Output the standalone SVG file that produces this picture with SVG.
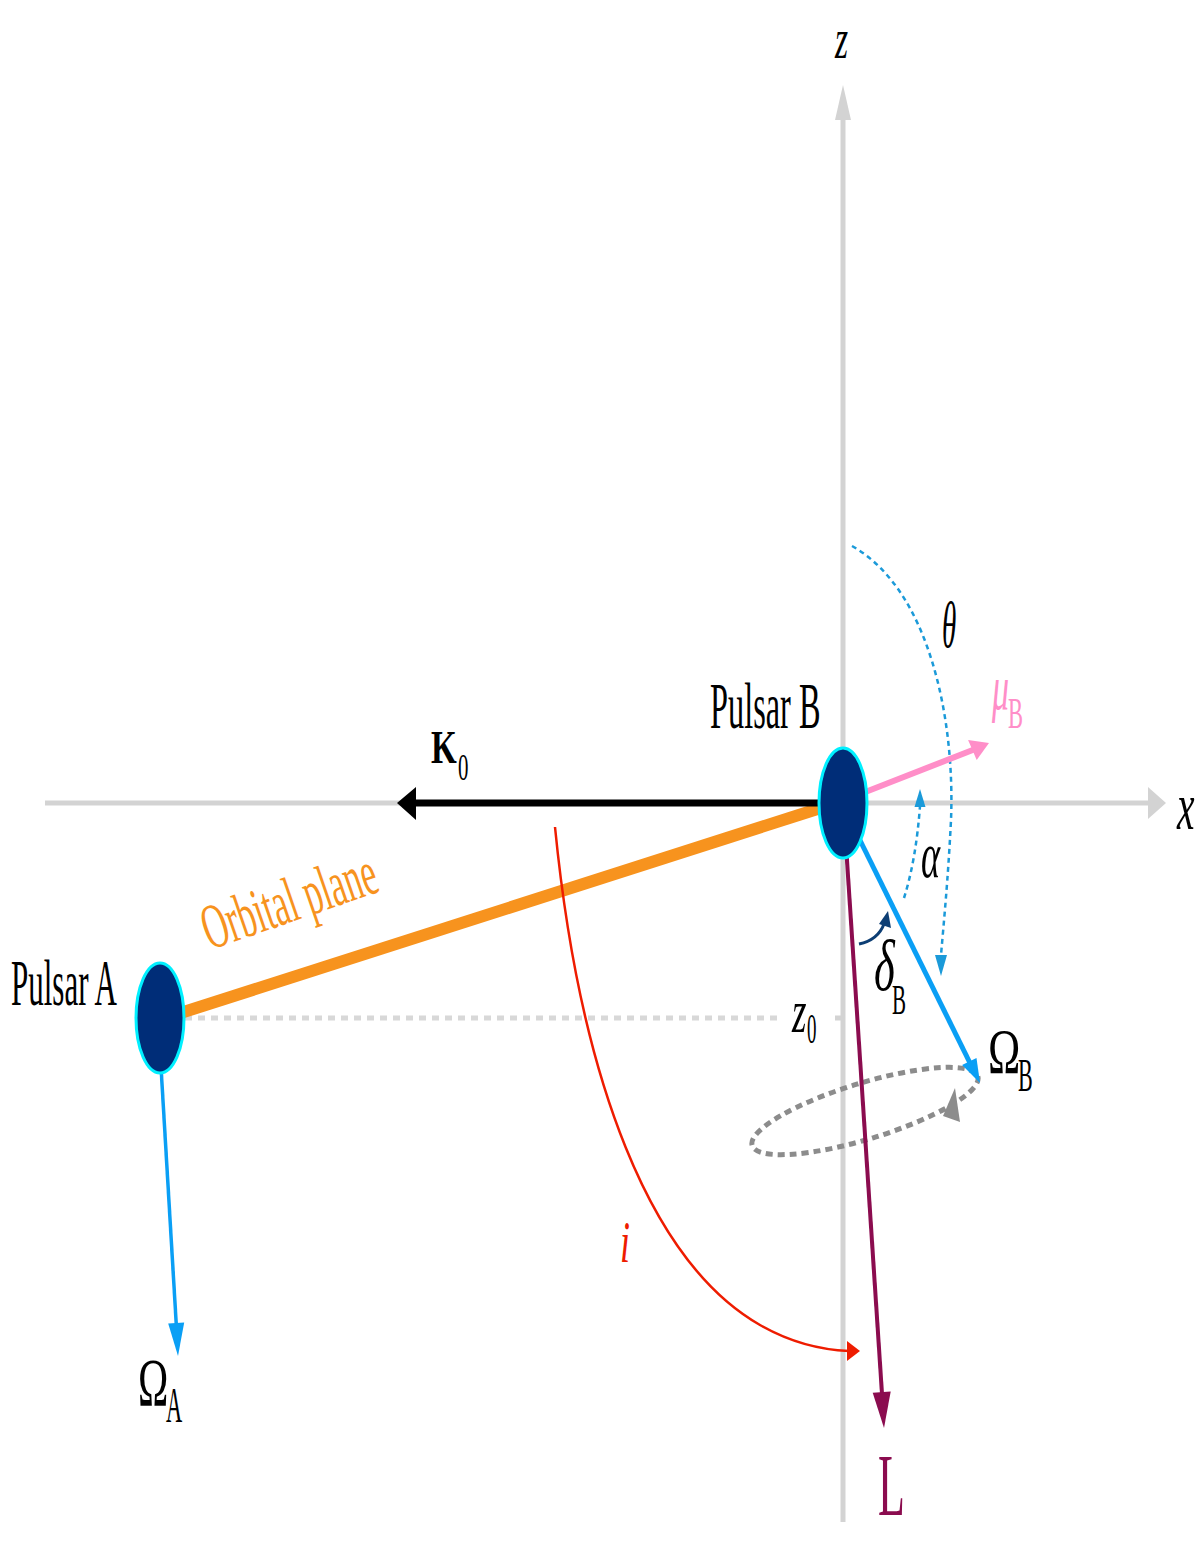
<svg xmlns="http://www.w3.org/2000/svg" width="1200" height="1543" viewBox="0 0 1200 1543">
<style>
text{font-family:"Liberation Serif","Times New Roman",serif;}
.it{font-style:italic;}
.axis{stroke:#d3d3d3;stroke-width:5;fill:none;}
.dash{fill:none;stroke:#1b9ad9;stroke-width:2.5;stroke-dasharray:5 4;}
</style>
<rect width="1200" height="1543" fill="#ffffff"/>
<g id="axes">
<line class="axis" x1="45" y1="803" x2="1150" y2="803"/>
<polygon points="1166,803 1148,787 1148,819" fill="#d3d3d3"/>
<line class="axis" x1="843" y1="1522" x2="843" y2="115"/>
<polygon points="843,85 835,120 851,120" fill="#d3d3d3"/>
<line x1="835" y1="1018" x2="843" y2="1018" stroke="#d3d3d3" stroke-width="5"/>
<g transform="translate(835,58) scale(0.6,1)"><text class="it" font-size="56" x="0" y="0">z</text></g>
<g transform="translate(1177,829) scale(0.58,1)"><text class="it" font-size="68" x="0" y="0">x</text></g>
</g>
<g id="connectors">
<line x1="185" y1="1018" x2="780" y2="1018" stroke="#d8d8d8" stroke-width="5" stroke-dasharray="7 6"/>
<line x1="165" y1="1018" x2="830" y2="805" stroke="#f7931e" stroke-width="12"/>
<line x1="830" y1="803" x2="412" y2="803" stroke="#000" stroke-width="7"/>
<polygon points="397,803 416,787 416,820" fill="#000"/>
<path d="M 555 827 C 580 1080 650 1262 760 1325 C 795 1345 825 1350 849 1351" fill="none" stroke="#ee1c00" stroke-width="2.5"/>
<polygon points="860,1351 847,1341 847,1361" fill="#ee1c00"/>
<path class="dash" d="M 852 546 C 930 590 955 720 951 820 C 948 880 944 920 941 955"/>
<polygon points="941,976 935,955 947,955" fill="#1b9ad9"/>
<path class="dash" d="M 904 898 Q 916 860 920 806"/>
<polygon points="920,789 914.5,807 925.5,807" fill="#1b9ad9"/>
<ellipse cx="865" cy="1111" rx="118" ry="28" transform="rotate(-17 865 1111)" fill="none" stroke="#8c8c8c" stroke-width="5" stroke-dasharray="7 5"/>
<polygon points="955,1088 943,1116 960,1122" fill="#8c8c8c"/>
<line x1="845" y1="830" x2="882" y2="1394" stroke="#8b0c4f" stroke-width="4"/>
<polygon points="884,1428 872.7,1392.7 890.7,1391.5" fill="#8b0c4f"/>
<line x1="850" y1="820" x2="970" y2="1063" stroke="#0a9ff5" stroke-width="5"/>
<polygon points="980,1083 962.1,1065.1 976.5,1057.9" fill="#0a9ff5"/>
<line x1="160" y1="1050" x2="176.3" y2="1325" stroke="#0a9ff5" stroke-width="3.5"/>
<polygon points="178,1356 168.2,1323.6 184.2,1322.6" fill="#0a9ff5"/>
<line x1="850" y1="798" x2="974" y2="749.5" stroke="#ff8ec8" stroke-width="6"/>
<polygon points="989,743 976.7,760.1 968.1,739.9" fill="#ff8ec8"/>
<path d="M 859 944 Q 878 940 884 924" fill="none" stroke="#0d3e74" stroke-width="3"/>
<polygon points="888,911 879,924 891,928" fill="#0d3e74"/>
</g>
<g id="pulsarB">
<ellipse cx="843" cy="803" rx="24" ry="55" fill="#002d78" stroke="#00f0ff" stroke-width="3"/>
<g transform="translate(710,728) scale(0.49,1)"><text font-size="66" x="0" y="0">Pulsar B</text></g>
</g>
<g id="pulsarA">
<ellipse cx="160" cy="1018" rx="24" ry="55" fill="#002d78" stroke="#00f0ff" stroke-width="3"/>
<g transform="translate(11,1005) scale(0.47,1)"><text font-size="66" x="0" y="0">Pulsar A</text></g>
</g>
<g id="labels">
<g transform="translate(210,950) rotate(-19) scale(0.54,1)"><text font-size="64" fill="#f7931e" x="0" y="0">Orbital plane</text></g>
<g transform="translate(431,763) scale(0.72,1)"><text font-size="46" font-weight="bold" x="0" y="0">K</text></g>
<g transform="translate(458,780) scale(0.55,1)"><text font-size="38" x="0" y="0">0</text></g>
<g transform="translate(942,647) scale(0.44,1)"><text class="it" font-size="66" x="0" y="0">θ</text></g>
<g transform="translate(992,709) scale(0.53,1)"><text class="it" font-size="64" fill="#ff8ec8" x="0" y="0">μ</text></g>
<g transform="translate(1008,728) scale(0.5,1)"><text font-size="45" fill="#ff8ec8" x="0" y="0">B</text></g>
<g transform="translate(921,877) scale(0.55,1)"><text class="it" font-size="66" x="0" y="0">α</text></g>
<g transform="translate(874,990) scale(0.62,1)"><text class="it" font-size="72" x="0" y="0">δ</text></g>
<g transform="translate(892,1014) scale(0.5,1)"><text font-size="42" x="0" y="0">B</text></g>
<g transform="translate(988,1073) scale(0.68,1)"><text font-size="64" x="0" y="0">Ω</text></g>
<g transform="translate(1018,1091) scale(0.48,1)"><text font-size="46" x="0" y="0">B</text></g>
<g transform="translate(792,1032) scale(0.6,1)"><text class="it" font-size="62" x="0" y="0">z</text></g>
<g transform="translate(807,1043) scale(0.45,1)"><text font-size="42" x="0" y="0">0</text></g>
<g transform="translate(138,1405) scale(0.6,1)"><text font-size="68" x="0" y="0">Ω</text></g>
<g transform="translate(166,1422) scale(0.45,1)"><text font-size="50" x="0" y="0">A</text></g>
<g transform="translate(878,1515) scale(0.5,1)"><text font-size="88" fill="#8b0c4f" x="0" y="0">L</text></g>
<g transform="translate(620,1262) scale(0.6,1)"><text class="it" font-size="60" fill="#ee1c00" x="0" y="0">i</text></g>
</g>
</svg>
